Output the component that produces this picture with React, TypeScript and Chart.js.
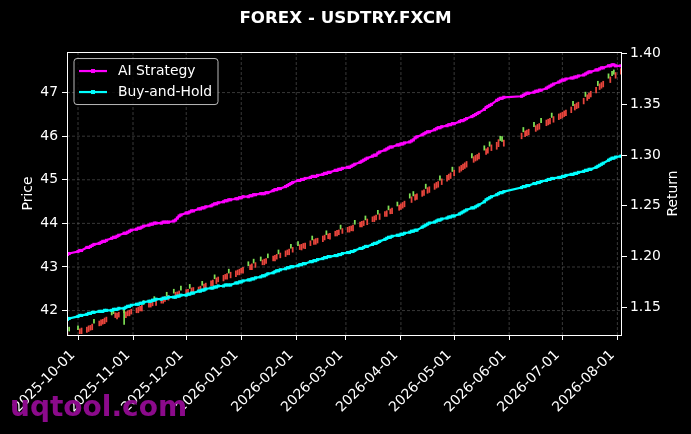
import React, { useEffect, useRef } from "react";
import { Chart, registerables } from "chart.js";

Chart.register(...registerables);

// ---------------- text ----------------
const TITLE = "FOREX - USDTRY.FXCM";
const PRICE_LABEL = "Price";
const RETURN_LABEL = "Return";
const WATERMARK = "uqtool.com";
const SERIES_NAMES = ["AI Strategy", "Buy-and-Hold"];

// ---------------- axis ticks ----------------
const dateTicks = [
  "2025-10-01", "2025-11-01", "2025-12-01", "2026-01-01", "2026-02-01", "2026-03-01",
  "2026-04-01", "2026-05-01", "2026-06-01", "2026-07-01", "2026-08-01",
];
const priceTicks = [42, 43, 44, 45, 46, 47];
const returnTicks = [1.15, 1.2, 1.25, 1.3, 1.35, 1.4];

// ---------------- trading calendar (year, month, first day, last day, closed days) ----------------
const calendar = [
  { y: 2025, m: 9, from: 25, to: 26, closed: [] as number[] },
  { y: 2025, m: 10, from: 1, to: 31, closed: [] as number[] },
  { y: 2025, m: 11, from: 1, to: 30, closed: [] as number[] },
  { y: 2025, m: 12, from: 1, to: 31, closed: [] as number[] },
  { y: 2026, m: 1, from: 1, to: 31, closed: [] as number[] },
  { y: 2026, m: 2, from: 1, to: 28, closed: [] as number[] },
  { y: 2026, m: 3, from: 1, to: 31, closed: [] as number[] },
  { y: 2026, m: 4, from: 1, to: 30, closed: [] as number[] },
  { y: 2026, m: 5, from: 1, to: 31, closed: [] as number[] },
  { y: 2026, m: 6, from: 1, to: 30, closed: [1, 2, 3, 4, 5] },
  { y: 2026, m: 7, from: 1, to: 31, closed: [] as number[] },
  { y: 2026, m: 8, from: 1, to: 3, closed: [] as number[] },
];

// ---------------- candles: [open, close] per trading day ----------------
const candlesSep = [[41.39, 41.5], [41.62, 41.53]];
const candlesOct = [
  [41.65, 41.56], [41.47, 41.58], [41.47, 41.6], [41.5, 41.62], [41.52, 41.65], [41.55, 41.66],
  [41.56, 41.69], [41.8, 41.71], [41.65, 41.76], [41.66, 41.79], [41.69, 41.8], [41.7, 41.83],
  [41.74, 41.85], [41.99, 41.9], [42.01, 41.93], [41.84, 41.95], [41.81, 41.94], [41.85, 41.96],
  [42.04, 41.95], [41.84, 41.97], [41.88, 41.99], [41.88, 42.01], [41.92, 42.03],
];
const candlesNov = [
  [41.95, 42.06], [41.95, 42.08], [41.99, 42.1], [41.99, 42.12], [42.23, 42.14],
  [42.08, 42.19], [42.08, 42.21], [42.11, 42.22], [42.32, 42.24], [42.12, 42.25],
  [42.17, 42.28], [42.17, 42.3], [42.21, 42.32], [42.42, 42.33], [42.24, 42.35],
  [42.49, 42.4], [42.29, 42.42], [42.32, 42.43], [42.32, 42.45], [42.56, 42.47],
];
const candlesDec = [
  [42.37, 42.48], [42.36, 42.49], [42.6, 42.51], [42.41, 42.52], [42.4, 42.53],
  [42.43, 42.54], [42.43, 42.56], [42.67, 42.58], [42.5, 42.61], [42.5, 42.63],
  [42.57, 42.68], [42.57, 42.7], [42.82, 42.73], [42.62, 42.75], [42.66, 42.77],
  [42.68, 42.81], [42.72, 42.83], [42.72, 42.85], [42.95, 42.86], [42.75, 42.88],
  [42.78, 42.91], [42.82, 42.93], [42.82, 42.95],
];
const candlesJan = [
  [42.86, 42.97], [42.86, 42.99],
  [43.12, 43.03], [42.94, 43.05], [42.94, 43.07], [43.18, 43.09], [42.99, 43.1],
  [43.23, 43.14], [43.05, 43.16], [43.05, 43.18], [43.08, 43.19], [43.3, 43.21],
  [43.14, 43.25], [43.14, 43.27], [43.18, 43.29], [43.39, 43.3], [43.21, 43.32],
  [43.24, 43.37], [43.28, 43.39], [43.28, 43.41], [43.52, 43.43], [43.34, 43.45],
];
const candlesFeb = [
  [43.58, 43.49], [43.4, 43.51], [43.39, 43.52], [43.43, 43.54], [43.42, 43.55],
  [43.49, 43.6], [43.71, 43.62], [43.52, 43.63], [43.52, 43.65], [43.55, 43.66],
  [43.58, 43.71], [43.62, 43.73], [43.83, 43.74], [43.65, 43.76], [43.64, 43.77],
  [43.71, 43.82], [43.71, 43.84], [43.74, 43.85], [43.96, 43.87], [43.77, 43.88],
];
const candlesMar = [
  [43.8, 43.91], [43.8, 43.93], [43.83, 43.94], [43.83, 43.96], [44.07, 43.98],
  [43.92, 44.03], [43.92, 44.05], [43.95, 44.06], [44.17, 44.08], [43.97, 44.1],
  [44.04, 44.15], [44.04, 44.17], [44.08, 44.19], [44.3, 44.21], [44.09, 44.22],
  [44.16, 44.27], [44.16, 44.29], [44.4, 44.31], [44.22, 44.33], [44.22, 44.35],
  [44.49, 44.4], [44.3, 44.42],
];
const candlesApr = [
  [44.32, 44.45], [44.35, 44.48], [44.38, 44.51],
  [44.68, 44.58], [44.48, 44.61], [44.73, 44.63], [44.53, 44.66], [44.55, 44.68],
  [44.62, 44.75], [44.64, 44.77], [44.9, 44.8], [44.69, 44.82], [44.71, 44.84],
  [44.78, 44.91], [44.81, 44.94], [44.83, 44.96], [45.09, 44.99], [44.89, 45.02],
  [44.97, 45.1], [45.0, 45.13], [45.03, 45.16], [45.29, 45.19],
];
const candlesMay = [
  [45.09, 45.22],
  [45.17, 45.3], [45.2, 45.33], [45.23, 45.36], [45.26, 45.39], [45.29, 45.42],
  [45.6, 45.5], [45.4, 45.53], [45.43, 45.56], [45.45, 45.58], [45.48, 45.61],
  [45.78, 45.68], [45.58, 45.71], [45.61, 45.74], [45.87, 45.77], [45.67, 45.8],
  [45.7, 45.86], [45.76, 45.92], [46.0, 45.9], [45.99, 45.88], [45.77, 45.91],
];
const candlesJun = [
  [45.94, 46.07], [46.2, 46.1], [45.99, 46.12], [46.01, 46.14], [46.03, 46.16],
  [46.32, 46.22], [46.11, 46.24], [46.14, 46.27], [46.16, 46.29], [46.41, 46.31],
  [46.24, 46.37], [46.26, 46.39], [46.28, 46.41], [46.53, 46.43], [46.32, 46.45],
  [46.38, 46.51], [46.4, 46.53],
];
const candlesJul = [
  [46.42, 46.55], [46.45, 46.58], [46.47, 46.6],
  [46.54, 46.67], [46.8, 46.7], [46.6, 46.73], [46.63, 46.76], [46.65, 46.78],
  [46.74, 46.87], [47.01, 46.91], [46.82, 46.95], [46.86, 46.99], [46.9, 47.03],
  [46.99, 47.12], [47.26, 47.16], [47.07, 47.2], [47.1, 47.23], [47.13, 47.26],
  [47.43, 47.33], [47.23, 47.36], [47.49, 47.39], [47.52, 47.42], [47.33, 47.46],
];
const candlesAug = [[47.42, 47.55]];

// notable wick
const wickDates = ["2025-10-27"];
const wickLows = [41.68];
const wickHighs = [42.04];

// ---------------- AI Strategy return ----------------
const aiSep = [1.202, 1.203];
const aiOct = [1.205, 1.206, 1.206, 1.209, 1.209, 1.21, 1.211, 1.212, 1.213, 1.214, 1.215, 1.215, 1.216, 1.218, 1.219, 1.219, 1.22, 1.221, 1.223, 1.223, 1.224, 1.225, 1.226];
const aiNov = [1.227, 1.228, 1.228, 1.229, 1.23, 1.231, 1.232, 1.232, 1.233, 1.233, 1.233, 1.234, 1.234, 1.234, 1.234, 1.235, 1.236, 1.238, 1.24, 1.241];
const aiDec = [1.243, 1.243, 1.244, 1.245, 1.245, 1.247, 1.247, 1.248, 1.248, 1.249, 1.25, 1.251, 1.252, 1.252, 1.253, 1.254, 1.255, 1.255, 1.256, 1.256, 1.257, 1.257, 1.258];
const aiJan = [1.258, 1.259, 1.259, 1.26, 1.26, 1.261, 1.261, 1.262, 1.262, 1.262, 1.263, 1.263, 1.265, 1.266, 1.266, 1.267, 1.267, 1.269, 1.27, 1.271, 1.272, 1.273];
const aiFeb = [1.275, 1.275, 1.276, 1.276, 1.277, 1.278, 1.279, 1.279, 1.279, 1.28, 1.281, 1.282, 1.282, 1.283, 1.283, 1.285, 1.285, 1.286, 1.286, 1.287];
const aiMar = [1.288, 1.288, 1.289, 1.29, 1.291, 1.293, 1.294, 1.295, 1.296, 1.297, 1.299, 1.3, 1.3, 1.302, 1.303, 1.305, 1.306, 1.307, 1.308, 1.308, 1.31, 1.31];
const aiApr = [1.311, 1.311, 1.312, 1.313, 1.314, 1.315, 1.317, 1.318, 1.32, 1.321, 1.322, 1.323, 1.323, 1.325, 1.326, 1.327, 1.327, 1.328, 1.329, 1.33, 1.33, 1.331];
const aiMay = [1.331, 1.333, 1.334, 1.334, 1.335, 1.336, 1.338, 1.339, 1.34, 1.341, 1.342, 1.345, 1.347, 1.348, 1.349, 1.35, 1.354, 1.355, 1.356, 1.356, 1.357];
const aiJun = [1.358, 1.359, 1.36, 1.361, 1.361, 1.362, 1.363, 1.363, 1.364, 1.364, 1.366, 1.367, 1.368, 1.369, 1.37, 1.372, 1.373];
const aiJul = [1.374, 1.374, 1.375, 1.376, 1.376, 1.377, 1.377, 1.378, 1.379, 1.38, 1.381, 1.382, 1.382, 1.384, 1.384, 1.385, 1.386, 1.386, 1.388, 1.388, 1.389, 1.389, 1.388];
const aiAug = [1.388];

// ---------------- Buy-and-Hold return ----------------
const bhSep = [1.138, 1.139];
const bhOct = [1.141, 1.142, 1.142, 1.143, 1.144, 1.144, 1.145, 1.145, 1.146, 1.146, 1.146, 1.147, 1.147, 1.147, 1.148, 1.148, 1.148, 1.149, 1.149, 1.15, 1.151, 1.151, 1.152];
const bhNov = [1.153, 1.153, 1.154, 1.154, 1.155, 1.156, 1.156, 1.157, 1.157, 1.158, 1.158, 1.159, 1.159, 1.159, 1.16, 1.16, 1.16, 1.161, 1.161, 1.162];
const bhDec = [1.162, 1.163, 1.163, 1.164, 1.164, 1.166, 1.166, 1.167, 1.167, 1.168, 1.169, 1.169, 1.17, 1.17, 1.171, 1.171, 1.172, 1.172, 1.172, 1.172, 1.174, 1.174, 1.175];
const bhJan = [1.175, 1.176, 1.177, 1.177, 1.178, 1.178, 1.179, 1.18, 1.181, 1.181, 1.182, 1.183, 1.184, 1.185, 1.186, 1.186, 1.187, 1.188, 1.189, 1.189, 1.19, 1.19];
const bhFeb = [1.191, 1.192, 1.192, 1.193, 1.193, 1.195, 1.195, 1.196, 1.196, 1.197, 1.198, 1.199, 1.199, 1.2, 1.2, 1.201, 1.201, 1.202, 1.202, 1.203];
const bhMar = [1.204, 1.204, 1.205, 1.205, 1.206, 1.208, 1.208, 1.209, 1.21, 1.21, 1.212, 1.213, 1.213, 1.214, 1.215, 1.217, 1.218, 1.219, 1.219, 1.22, 1.221, 1.221];
const bhApr = [1.222, 1.222, 1.223, 1.224, 1.225, 1.225, 1.226, 1.226, 1.229, 1.23, 1.231, 1.232, 1.233, 1.234, 1.235, 1.236, 1.236, 1.237, 1.238, 1.239, 1.239, 1.24];
const bhMay = [1.24, 1.242, 1.243, 1.244, 1.245, 1.246, 1.248, 1.248, 1.249, 1.25, 1.251, 1.254, 1.256, 1.257, 1.258, 1.259, 1.261, 1.262, 1.263, 1.263, 1.264];
const bhJun = [1.268, 1.269, 1.269, 1.27, 1.27, 1.272, 1.272, 1.273, 1.273, 1.274, 1.275, 1.276, 1.276, 1.277, 1.277, 1.278, 1.278];
const bhJul = [1.279, 1.279, 1.28, 1.281, 1.281, 1.282, 1.282, 1.283, 1.284, 1.285, 1.285, 1.286, 1.286, 1.288, 1.289, 1.29, 1.291, 1.292, 1.295, 1.296, 1.297, 1.297, 1.298];
const bhAug = [1.299];

const candleMonths = [candlesSep, candlesOct, candlesNov, candlesDec, candlesJan, candlesFeb, candlesMar, candlesApr, candlesMay, candlesJun, candlesJul, candlesAug];
const aiMonths = [aiSep, aiOct, aiNov, aiDec, aiJan, aiFeb, aiMar, aiApr, aiMay, aiJun, aiJul, aiAug];
const bhMonths = [bhSep, bhOct, bhNov, bhDec, bhJan, bhFeb, bhMar, bhApr, bhMay, bhJun, bhJul, bhAug];

// ---------------- styling ----------------
const UP_COLOR = "#e8453c";
const DOWN_COLOR = "#7ee055";
const AI_COLOR = "#ff00ff";
const BH_COLOR = "#00ffff";
const GRID_COLOR = "rgba(128,128,128,0.55)";
const FONT = "'DejaVu Sans', 'Liberation Sans', sans-serif";

const ORIGIN = Date.UTC(2025, 9, 1);
const dayOfParts = (y: number, m: number, d: number) =>
  Math.round((Date.UTC(y, m - 1, d) - ORIGIN) / 86400000);
const dayOfString = (s: string) => {
  const [y, m, d] = s.split("-").map(Number);
  return dayOfParts(y, m, d);
};

function tradingDays(spec: { y: number; m: number; from: number; to: number; closed: number[] }) {
  const out: number[] = [];
  for (let d = spec.from; d <= spec.to; d++) {
    const wd = new Date(Date.UTC(spec.y, spec.m - 1, d)).getUTCDay();
    if (wd === 0 || wd === 6 || spec.closed.includes(d)) continue;
    out.push(dayOfParts(spec.y, spec.m, d));
  }
  return out;
}

function buildData() {
  const candles: { x: number; y: number[] }[] = [];
  const ai: { x: number; y: number }[] = [];
  const bh: { x: number; y: number }[] = [];
  calendar.forEach((spec, i) => {
    const days = tradingDays(spec);
    days.forEach((x, k) => {
      const c = candleMonths[i][k];
      if (c) candles.push({ x, y: [c[0], c[1]] });
      if (aiMonths[i][k] !== undefined) ai.push({ x, y: aiMonths[i][k] });
      if (bhMonths[i][k] !== undefined) bh.push({ x, y: bhMonths[i][k] });
    });
  });
  const wicks = wickDates.map((s, i) => ({ x: dayOfString(s), y: [wickLows[i], wickHighs[i]] }));
  return { candles, ai, bh, wicks };
}

const tickDays = dateTicks.map(dayOfString);

const bgPlugin = {
  id: "bg",
  beforeDraw(chart: any) {
    const { ctx, width, height } = chart;
    ctx.save();
    ctx.fillStyle = "#000";
    ctx.fillRect(0, 0, width, height);
    ctx.restore();
  },
};

const gridPlugin = {
  id: "dashGrid",
  beforeDatasetsDraw(chart: any) {
    const { ctx, chartArea: a, scales } = chart;
    ctx.save();
    ctx.strokeStyle = GRID_COLOR;
    ctx.lineWidth = 0.8;
    ctx.setLineDash([3, 2]);
    tickDays.forEach((d) => {
      const x = scales.x.getPixelForValue(d);
      ctx.beginPath();
      ctx.moveTo(x, a.top);
      ctx.lineTo(x, a.bottom);
      ctx.stroke();
    });
    priceTicks.forEach((v) => {
      const y = scales.y.getPixelForValue(v);
      ctx.beginPath();
      ctx.moveTo(a.left, y);
      ctx.lineTo(a.right, y);
      ctx.stroke();
    });
    ctx.restore();
  },
};

const decoPlugin = {
  id: "deco",
  afterDatasetsDraw(chart: any) {
    const { ctx, chartArea: a } = chart;
    ctx.save();
    // frame
    ctx.strokeStyle = "#ffffff";
    ctx.lineWidth = 1;
    ctx.setLineDash([]);
    ctx.strokeRect(Math.round(a.left) + 0.5, Math.round(a.top) + 0.5, Math.round(a.right - a.left) - 1, Math.round(a.bottom - a.top));

    // legend
    const x0 = a.left + 7;
    const y0 = a.top + 6.5;
    const w = 144;
    const h = 46;
    const r = 3;
    ctx.beginPath();
    ctx.moveTo(x0 + r, y0);
    ctx.lineTo(x0 + w - r, y0);
    ctx.quadraticCurveTo(x0 + w, y0, x0 + w, y0 + r);
    ctx.lineTo(x0 + w, y0 + h - r);
    ctx.quadraticCurveTo(x0 + w, y0 + h, x0 + w - r, y0 + h);
    ctx.lineTo(x0 + r, y0 + h);
    ctx.quadraticCurveTo(x0, y0 + h, x0, y0 + h - r);
    ctx.lineTo(x0, y0 + r);
    ctx.quadraticCurveTo(x0, y0, x0 + r, y0);
    ctx.closePath();
    ctx.fillStyle = "rgba(0,0,0,0.8)";
    ctx.fill();
    ctx.strokeStyle = "rgba(204,204,204,0.9)";
    ctx.lineWidth = 1;
    ctx.stroke();
    const colors = [AI_COLOR, BH_COLOR];
    ctx.font = `13.9px ${FONT}`;
    ctx.textBaseline = "middle";
    ctx.textAlign = "left";
    SERIES_NAMES.forEach((name, i) => {
      const yy = y0 + 12.5 + i * 21;
      ctx.strokeStyle = colors[i];
      ctx.lineWidth = 2.2;
      ctx.beginPath();
      ctx.moveTo(x0 + 5, yy);
      ctx.lineTo(x0 + 33, yy);
      ctx.stroke();
      ctx.fillStyle = colors[i];
      ctx.fillRect(x0 + 19 - 2, yy - 2, 4, 4);
      ctx.fillStyle = "#ffffff";
      ctx.fillText(name, x0 + 44, yy + 0.5);
    });

    // axis titles
    const midY = (a.top + a.bottom) / 2;
    ctx.font = `13.9px ${FONT}`;
    ctx.fillStyle = "#ffffff";
    ctx.textAlign = "center";
    ctx.textBaseline = "middle";
    ctx.save();
    ctx.translate(28, midY);
    ctx.rotate(-Math.PI / 2);
    ctx.fillText(PRICE_LABEL, 0, 0);
    ctx.restore();
    ctx.save();
    ctx.translate(673.5, midY);
    ctx.rotate(-Math.PI / 2);
    ctx.fillText(RETURN_LABEL, 0, 0);
    ctx.restore();
    ctx.restore();
  },
  afterDraw(chart: any) {
    const { ctx } = chart;
    ctx.save();
    ctx.font = `bold 28px ${FONT}`;
    ctx.fillStyle = "#8b0a8b";
    ctx.textAlign = "left";
    ctx.textBaseline = "alphabetic";
    ctx.fillText(WATERMARK, 10, 416);
    ctx.restore();
  },
};

export default function App() {
  const ref = useRef<HTMLCanvasElement>(null);
  useEffect(() => {
    document.body.style.margin = "0";
    document.body.style.background = "#000";
    Chart.defaults.font.family = FONT;
    Chart.defaults.color = "#ffffff";
    const { candles, ai, bh, wicks } = buildData();
    const candleColor = (ctx: any) => {
      const v = ctx.raw && ctx.raw.y;
      return v && v[1] >= v[0] ? UP_COLOR : DOWN_COLOR;
    };
    const tickFont = { size: 13.9, family: FONT };
    const chart = new Chart(ref.current as HTMLCanvasElement, {
      type: "bar",
      data: {
        datasets: [
          {
            type: "line",
            label: SERIES_NAMES[0],
            data: ai,
            yAxisID: "y1",
            borderColor: AI_COLOR,
            backgroundColor: AI_COLOR,
            borderWidth: 2.2,
            pointStyle: "rect",
            pointRadius: 2.2,
            pointBorderWidth: 0,
            pointBackgroundColor: AI_COLOR,
            tension: 0,
            order: 0,
          },
          {
            type: "line",
            label: SERIES_NAMES[1],
            data: bh,
            yAxisID: "y1",
            borderColor: BH_COLOR,
            backgroundColor: BH_COLOR,
            borderWidth: 2.2,
            pointStyle: "rect",
            pointRadius: 2.2,
            pointBorderWidth: 0,
            pointBackgroundColor: BH_COLOR,
            tension: 0,
            order: 1,
          },
          {
            type: "bar",
            label: "wick",
            data: wicks as any,
            yAxisID: "y",
            backgroundColor: DOWN_COLOR,
            barThickness: 1,
            grouped: false,
            order: 3,
          },
          {
            type: "bar",
            label: "candles",
            data: candles as any,
            yAxisID: "y",
            backgroundColor: candleColor,
            barThickness: 1.1,
            grouped: false,
            order: 2,
          },
        ] as any,
      },
      options: {
        responsive: false,
        animation: false,
        events: [],
        layout: { padding: 0 },
        plugins: {
          legend: { display: false },
          tooltip: { enabled: false },
          title: {
            display: true,
            text: TITLE,
            color: "#ffffff",
            font: { size: 16.7, weight: "bold", family: FONT },
            padding: { top: 9, bottom: 23 },
          },
        },
        scales: {
          x: {
            type: "linear",
            min: -6.2,
            max: 306.6,
            offset: false,
            grid: {
              display: true,
              drawOnChartArea: false,
              tickColor: "#ffffff",
              tickLength: 5,
              tickWidth: 1,
              offset: false,
            },
            border: { display: false },
            afterBuildTicks: (scale: any) => {
              scale.ticks = tickDays.map((v) => ({ value: v }));
            },
            afterFit: (scale: any) => {
              scale.height = 99;
            },
            ticks: {
              autoSkip: false,
              maxRotation: 45,
              minRotation: 45,
              padding: 7,
              labelOffset: -5,
              color: "#ffffff",
              font: tickFont,
              callback: (v: any) => {
                const i = tickDays.indexOf(Number(v));
                return i >= 0 ? dateTicks[i] : "";
              },
            },
          },
          y: {
            type: "linear",
            position: "left",
            min: 41.44,
            max: 47.93,
            grid: {
              display: true,
              drawOnChartArea: false,
              tickColor: "#ffffff",
              tickLength: 5,
              tickWidth: 1,
            },
            border: { display: false },
            afterBuildTicks: (scale: any) => {
              scale.ticks = priceTicks.map((v) => ({ value: v }));
            },
            afterFit: (scale: any) => {
              scale.width = 67;
            },
            ticks: {
              padding: 4,
              color: "#ffffff",
              font: tickFont,
              callback: (v: any) => String(v),
            },
          },
          y1: {
            type: "linear",
            position: "right",
            min: 1.1227,
            max: 1.4016,
            grid: {
              display: true,
              drawOnChartArea: false,
              tickColor: "#ffffff",
              tickLength: 5,
              tickWidth: 1,
            },
            border: { display: false },
            afterBuildTicks: (scale: any) => {
              scale.ticks = returnTicks.map((v) => ({ value: v }));
            },
            afterFit: (scale: any) => {
              scale.width = 69;
            },
            ticks: {
              padding: 3,
              color: "#ffffff",
              font: tickFont,
              callback: (v: any) => Number(v).toFixed(2),
            },
          },
        },
      } as any,
      plugins: [bgPlugin, gridPlugin, decoPlugin],
    });
    return () => chart.destroy();
  }, []);
  return (
    <canvas
      ref={ref}
      width={691}
      height={434}
      style={{ display: "block", width: 691, height: 434 }}
    />
  );
}
